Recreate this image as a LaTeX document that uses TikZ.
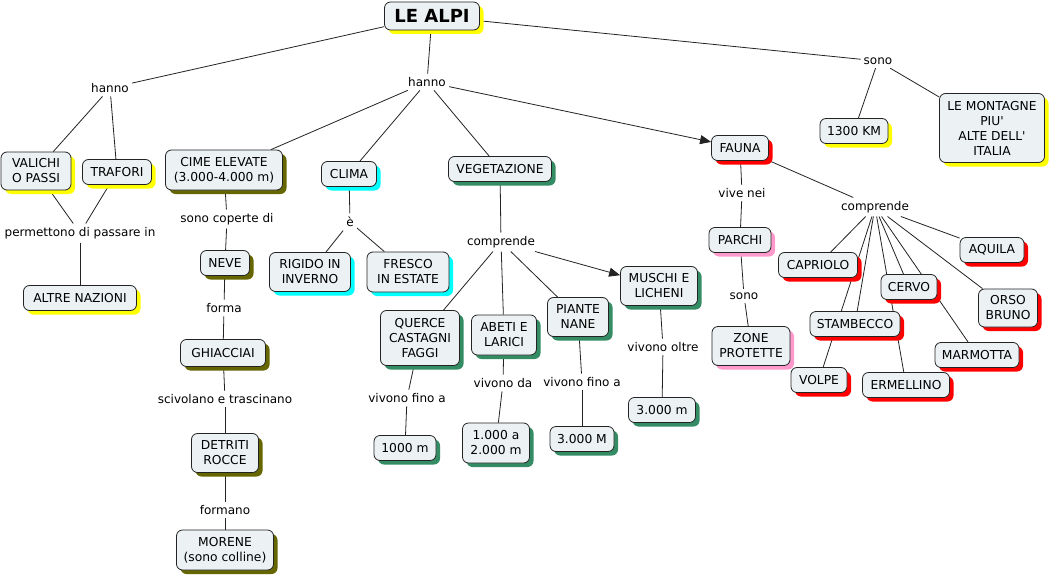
\documentclass[tikz,border=0pt]{standalone}
\usepackage{fontspec}
\setmainfont{DejaVu Sans}[Ligatures=TeXOff]
\usetikzlibrary{shadows,backgrounds,arrows.meta}
\definecolor{boxfill}{RGB}{236,242,244}
\definecolor{olivesh}{RGB}{102,102,0}
\definecolor{greensh}{RGB}{51,140,100}
\definecolor{pinksh}{RGB}{255,153,204}
\definecolor{cyansh}{RGB}{0,255,255}
\definecolor{yellowsh}{RGB}{255,255,0}
\definecolor{redsh}{RGB}{255,0,0}
\definecolor{linecol}{RGB}{35,35,35}
\begin{document}
\begin{tikzpicture}[x=1pt,y=-1pt,
  box/.style={draw=linecol, line width=0.8pt, fill=boxfill, rounded corners=6pt,
    align=center, inner sep=2pt, font=\fontsize{12.3}{15}\selectfont, minimum height=25pt},
  shy/.style={box, drop shadow={shadow xshift=4pt,shadow yshift=-4pt,fill=yellowsh,opacity=1}},
  sho/.style={box, drop shadow={shadow xshift=4pt,shadow yshift=-4pt,fill=olivesh,opacity=1}},
  shc/.style={box, drop shadow={shadow xshift=4pt,shadow yshift=-4pt,fill=cyansh,opacity=1}},
  shg/.style={box, drop shadow={shadow xshift=4pt,shadow yshift=-4pt,fill=greensh,opacity=1}},
  shr/.style={box, drop shadow={shadow xshift=4pt,shadow yshift=-4pt,fill=redsh,opacity=1}},
  shp/.style={box, drop shadow={shadow xshift=4pt,shadow yshift=-4pt,fill=pinksh,opacity=1}},
  lbl/.style={fill=white, inner xsep=3pt, inner ysep=3.5pt, font=\fontsize{12}{15}\selectfont},
  edge/.style={draw=linecol, line width=0.8pt},
  arr/.style={edge, -{Triangle[length=11pt,width=9pt]}}
]
\useasboundingbox (0,0) rectangle (1052,578);

% main
\node[shy, minimum width=95pt, minimum height=28pt, font=\fontsize{18}{20}\selectfont\bfseries] (alpi) at (432,16) {LE ALPI};
\node[lbl] (hannoL) at (110,88) {hanno};
\node[lbl] (hannoC) at (427,82) {hanno};
\node[lbl] (sonoT) at (878,61) {sono};

% left branch
\node[shy, minimum width=70pt, minimum height=38pt] (valichi) at (36,171) {VALICHI\\O PASSI};
\node[shy, minimum width=69pt] (trafori) at (117,172) {TRAFORI};
\node[lbl] (perm) at (80,233) {permettono di passare in};
\node[shy, minimum width=113pt] (altre) at (80,298) {ALTRE NAZIONI};

% cime
\node[sho, minimum width=117pt, minimum height=40pt] (cime) at (224,170) {CIME ELEVATE\\(3.000-4.000 m)};
\node[lbl] (coperte) at (227,219) {sono coperte di};
\node[sho, minimum width=49pt] (neve) at (225,263) {NEVE};
\node[lbl] (forma) at (224,308) {forma};
\node[sho, minimum width=85pt, minimum height=27pt] (ghiacciai) at (223,353) {GHIACCIAI};
\node[lbl] (scivolano) at (225,399) {scivolano e trascinano};
\node[sho, minimum width=67pt, minimum height=39pt] (detriti) at (225,453) {DETRITI\\ROCCE};
\node[lbl] (formano) at (225,510) {formano};
\node[sho, minimum width=97pt, minimum height=40pt] (morene) at (225,550) {MORENE\\(sono colline)};

% clima
\node[shc, minimum width=55pt] (clima) at (349,174) {CLIMA};
\node[lbl] (e) at (350,222) {è};
\node[shc, minimum width=81pt, minimum height=39pt] (rigido) at (310,272) {RIGIDO IN\\INVERNO};
\node[shc, minimum width=82pt, minimum height=40pt] (fresco) at (408,272) {FRESCO\\IN ESTATE};

% vegetazione
\node[shg, minimum width=103pt] (veg) at (500,169) {VEGETAZIONE};
\node[lbl] (compV) at (501,242) {comprende};
\node[shg, minimum width=79pt, minimum height=55pt] (querce) at (420,338) {QUERCE\\CASTAGNI\\FAGGI};
\node[shg, minimum width=65pt, minimum height=40pt] (abeti) at (504,335) {ABETI E\\LARICI};
\node[shg, minimum width=61pt, minimum height=39pt] (piante) at (578,317) {PIANTE\\NANE};
\node[shg, minimum width=77pt, minimum height=39pt] (muschi) at (659,286) {MUSCHI E\\LICHENI};
\node[lbl] (finoQ) at (407,398) {vivono fino a};
\node[shg, minimum width=62pt] (m1000) at (405,448) {1000 m};
\node[lbl] (da) at (503,383) {vivono da};
\node[shg, minimum width=67pt, minimum height=40pt] (m12) at (496,443) {1.000 a\\2.000 m};
\node[lbl] (finoP) at (582,382) {vivono fino a};
\node[shg, minimum width=64pt] (m3M) at (582,439) {3.000 M};
\node[lbl] (oltre) at (663,347) {vivono oltre};
\node[shg, minimum width=67pt] (m3m) at (662,410) {3.000 m};

% fauna
\node[shr, minimum width=57pt] (fauna) at (740,148) {FAUNA};
\node[lbl] (vive) at (742,193) {vive nei};
\node[shp, minimum width=62pt] (parchi) at (740,240) {PARCHI};
\node[lbl] (sonoP) at (744,296) {sono};
\node[shp, minimum width=78pt, minimum height=39pt] (zone) at (751,346) {ZONE\\PROTETTE};
\node[lbl] (compF) at (875,207) {comprende};
\node[shr, minimum width=79pt] (capriolo) at (818,265) {CAPRIOLO};
\node[shr, minimum width=64pt] (aquila) at (992,250) {AQUILA};
\node[shr, minimum width=56pt] (cervo) at (909,287) {CERVO};
\node[shr, minimum width=59pt, minimum height=38pt] (orso) at (1008,308) {ORSO\\BRUNO};
\node[shr, minimum width=90pt] (stambecco) at (855,324) {STAMBECCO};
\node[shr, minimum width=84pt] (marmotta) at (977,355) {MARMOTTA};
\node[shr, minimum width=56pt] (volpe) at (819,380) {VOLPE};
\node[shr, minimum width=87pt] (ermellino) at (906,385) {ERMELLINO};

% sono
\node[shy, minimum width=68pt] (km) at (854,131) {1300 KM};
\node[shy, minimum width=105pt, minimum height=69pt] (montagne) at (992,128) {LE MONTAGNE\\PIU'\\ALTE DELL'\\ITALIA};

\begin{scope}[on background layer]
\fill[white] (0,0) rectangle (1052,578);
\draw[edge] (alpi) -- (hannoL);
\draw[edge] (alpi) -- (hannoC);
\draw[edge] (alpi) -- (sonoT);
\draw[edge] (hannoL) -- (valichi);
\draw[edge] (hannoL) -- (trafori);
\draw[edge] (valichi) -- (perm);
\draw[edge] (trafori) -- (perm);
\draw[edge] (perm) -- (altre);
\draw[edge] (hannoC) -- (cime);
\draw[edge] (hannoC) -- (clima);
\draw[edge] (hannoC) -- (veg);
\draw[arr] (hannoC) -- (fauna);
\draw[edge] (cime) -- (coperte);
\draw[edge] (coperte) -- (neve);
\draw[edge] (neve) -- (forma);
\draw[edge] (forma) -- (ghiacciai);
\draw[edge] (ghiacciai) -- (scivolano);
\draw[edge] (scivolano) -- (detriti);
\draw[edge] (detriti) -- (formano);
\draw[edge] (formano) -- (morene);
\draw[edge] (clima) -- (e);
\draw[edge] (e) -- (rigido);
\draw[edge] (e) -- (fresco);
\draw[edge] (veg) -- (compV);
\draw[edge] (compV) -- (querce);
\draw[edge] (compV) -- (abeti);
\draw[edge] (compV) -- (piante);
\draw[arr] (compV) -- (muschi);
\draw[edge] (querce) -- (finoQ);
\draw[edge] (finoQ) -- (m1000);
\draw[edge] (abeti) -- (da);
\draw[edge] (da) -- (m12);
\draw[edge] (piante) -- (finoP);
\draw[edge] (finoP) -- (m3M);
\draw[edge] (muschi) -- (oltre);
\draw[edge] (oltre) -- (m3m);
\draw[edge] (fauna) -- (vive);
\draw[edge] (vive) -- (parchi);
\draw[edge] (parchi) -- (sonoP);
\draw[edge] (sonoP) -- (zone);
\draw[edge] (fauna) -- (compF);
\draw[edge] (compF) -- (capriolo);
\draw[edge] (compF) -- (volpe);
\draw[edge] (compF) -- (stambecco);
\draw[edge] (compF) -- (ermellino);
\draw[edge] (compF) -- (cervo);
\draw[edge] (compF) -- (marmotta);
\draw[edge] (compF) -- (orso);
\draw[edge] (compF) -- (aquila);
\draw[edge] (sonoT) -- (km);
\draw[edge] (sonoT) -- (montagne);
\end{scope}
\end{tikzpicture}
\end{document}
